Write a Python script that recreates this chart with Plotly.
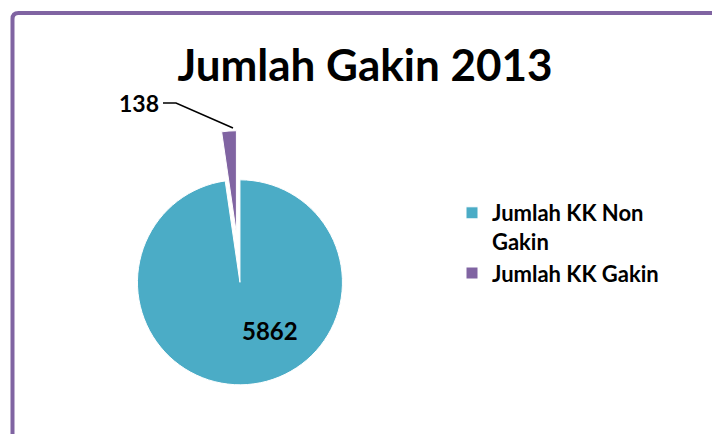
'''
    Pie chart of Gakin households in 2013.
'''

import plotly.graph_objects as go

W, H = 712, 434

labels = ['Jumlah KK Non<br>Gakin', 'Jumlah KK Gakin']
values = [5862, 138]
colors = ['#4BACC6', '#8064A2']
pulls = [0, 0.48]

FONT = 'Lato'


def px(x):
    return x / W


def py(y):
    return 1 - y / H


fig = go.Figure()

fig.add_trace(go.Pie(
    labels=['<b>%s</b>' % l.replace('<br>', '</b><br><b>') for l in labels],
    values=values,
    sort=False,
    direction='clockwise',
    rotation=0,
    pull=pulls,
    textinfo='none',
    hoverinfo='label+value',
    marker=dict(colors=colors, line=dict(color='white', width=1)),
    domain=dict(x=[0.12, 0.554], y=[0, 0.699]),
))

# data labels
fig.add_annotation(x=px(270), y=py(330), xref='paper', yref='paper',
                   xanchor='center', yanchor='middle',
                   text='<b>%d</b>' % values[0], showarrow=False,
                   font=dict(family=FONT, size=24, color='black'))
fig.add_annotation(x=px(139), y=py(103), xref='paper', yref='paper',
                   xanchor='center', yanchor='middle',
                   text='<b>%d</b>' % values[1], showarrow=False,
                   font=dict(family=FONT, size=23, color='black'))

# leader line for the small slice
fig.add_shape(type='path', xref='paper', yref='paper',
              path='M %f,%f L %f,%f L %f,%f' % (px(163), py(103), px(176), py(103), px(233), py(128)),
              line=dict(color='black', width=1.5))

# purple frame round the chart area
fig.add_shape(type='path', xref='paper', yref='paper',
              path='M %f,%f L %f,%f Q %f,%f %f,%f L %f,%f' % (
                  px(12.5), py(440), px(12.5), py(19), px(12.5), py(13), px(18.5), py(13), px(720), py(13)),
              line=dict(color='#8064A2', width=4))

fig.update_layout(
    width=W,
    height=H,
    margin=dict(l=0, r=0, t=0, b=0),
    paper_bgcolor='white',
    plot_bgcolor='white',
    font=dict(family=FONT, color='black'),
    title=dict(text='<b>Jumlah Gakin 2013</b>', x=px(365), y=py(66),
               xanchor='center', yanchor='middle',
               font=dict(family=FONT, size=44, color='black')),
    showlegend=True,
    legend=dict(x=px(452), y=py(192), xanchor='left', yanchor='top',
                valign='top', font=dict(family=FONT, size=22, color='black'),
                bgcolor='rgba(0,0,0,0)'),
)

fig.write_html("out.html", config={'displayModeBar': False},
               post_script="document.body.style.margin='0';")
